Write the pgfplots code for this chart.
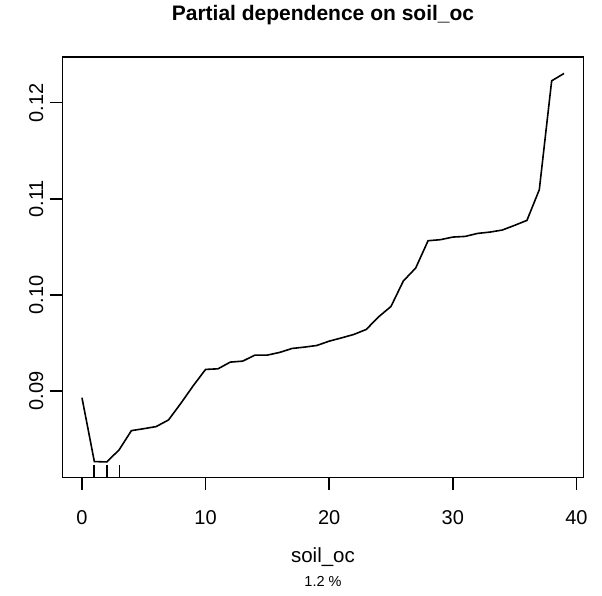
\documentclass[border=0pt]{standalone}
\usepackage{fontspec}
\setmainfont{Liberation Sans}
\usepackage{pgfplots}
\pgfplotsset{compat=1.18}

\begin{document}
\begin{tikzpicture}
% page = 602 x 595 px, axis box lower-left at (0,0)
\path[use as bounding box] (-62.7pt,-117.3pt) rectangle (539.3pt,477.7pt);
\begin{axis}[
    scale only axis,
    width=520.6pt, height=420.7pt,
    xmin=-1.56, xmax=40.56,
    ymin=0.08098, ymax=0.12476,
    xtick={0,10,20,30,40},
    ytick={0.09,0.10,0.11,0.12},
    yticklabels={0.09,0.10,0.11,0.12},
    tick align=outside,
    major tick length=12.5pt,
    xtick pos=bottom, ytick pos=left,
    every tick/.style={black, line width=1.5pt},
    axis line style={line width=1.5pt},
    /pgf/number format/assume math mode=true,
    tick label style={font=\fontsize{20}{24}\selectfont},
    xticklabel style={anchor=base, yshift=-34pt},
    yticklabel style={rotate=90, anchor=base, yshift=7pt},
    xlabel={soil\_oc},
    xlabel style={font=\fontsize{20.5}{24}\selectfont, at={(axis description cs:0.5,0)}, anchor=base, yshift=-84.3pt},
    title={Partial dependence on soil\_oc},
    title style={font=\fontsize{21}{25}\selectfont\bfseries, at={(axis description cs:0.5,1)}, anchor=base, yshift=30.3pt},
    clip=false,
    unbounded coords=jump,
]
\addplot[black, line width=1.6pt] coordinates {
(0,0.0893) (1,0.08266) (2,0.08262) (3,0.08387) (4,0.08588) (5,0.08608)
(6,0.0863) (7,0.08699) (8,0.08872) (9,0.09055) (10,0.09225) (11,0.09231)
(12,0.09301) (13,0.09311) (14,0.09374) (15,0.09374) (16,0.09402) (17,0.09443)
(18,0.09457) (19,0.09474) (20,0.09519) (21,0.09553) (22,0.09589) (23,0.09641)
(24,0.09772) (25,0.09880) (26,0.10145) (27,0.1028) (28,0.10564) (29,0.10575)
(30,0.10602) (31,0.10609) (32,0.1064) (33,0.10654) (34,0.10675) (35,0.10724)
(36,0.10776) (37,0.11095) (38,0.12228) (39,0.12305)
};
% rug
\addplot[black, line width=1.9pt] coordinates {
(1,0.08098) (1,0.08229) (1,nan) (2,0.08098) (2,0.08229)
};
\addplot[black, line width=1pt] coordinates {
(3,0.08098) (3,0.08229)
};
\node[anchor=base, font=\fontsize{14.5}{17}\selectfont, yshift=-109pt] at (axis description cs:0.5,0) {1.2 \%};
\end{axis}
\end{tikzpicture}
\end{document}
